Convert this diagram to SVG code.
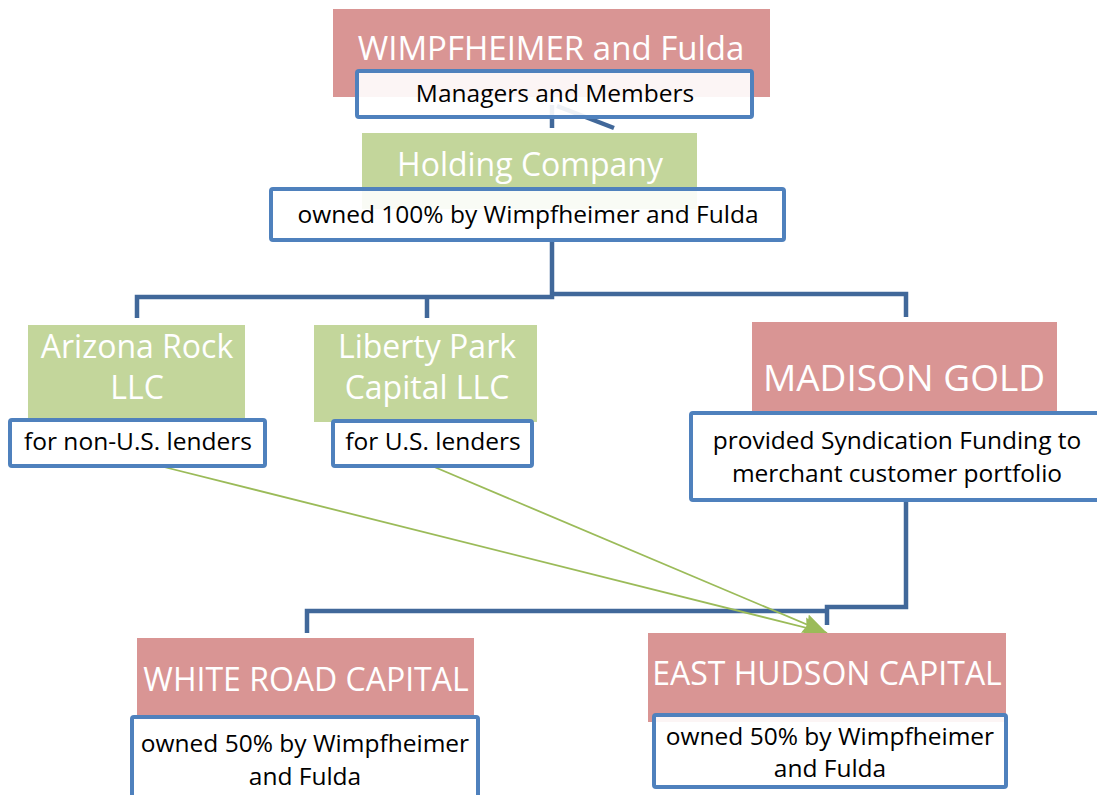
<svg xmlns="http://www.w3.org/2000/svg" width="1097" height="795" viewBox="0 0 1097 795">
<defs>
<style>
.pink{fill:#D99594}
.green{fill:#C3D69B}
.box{fill:#FFFFFF;fill-opacity:0.9;stroke:#4F81BD;stroke-width:4}
.title{font-family:"Open Sans","Liberation Sans",sans-serif;fill:#FFFFFF;text-anchor:middle}
.sub{font-family:"Open Sans","Liberation Sans",sans-serif;fill:#000000;text-anchor:middle;font-size:24.5px}
.conn{fill:none;stroke:#41689A;stroke-width:4.5}
.arrow{fill:none;stroke:#9BBB59;stroke-width:1.8}
</style>
<marker id="ah" markerUnits="userSpaceOnUse" markerWidth="26" markerHeight="22" refX="24" refY="11" orient="auto">
<path d="M0,1 L24,11 L0,21 L3,11 Z" fill="#9BBB59"/>
</marker>
</defs>
<rect width="1097" height="795" fill="#FFFFFF"/>
<g id="connectors">
<path class="conn" d="M552,105 V128"/>
<path class="conn" d="M557,106 L614,128"/>
<path class="conn" d="M552,240 V297 H137 V318"/>
<path class="conn" d="M427,318 V297"/>
<path class="conn" d="M552,294 H906 V317"/>
<path class="conn" d="M906,500 V607 H827 V625"/>
<path class="conn" d="M307,633 V611 H827"/>
<path class="arrow" d="M160,466 L827,633" marker-end="url(#ah)"/>
<path class="arrow" d="M432,466 L827,633" marker-end="url(#ah)"/>
</g>
<g id="wimpfheimer">
<rect class="pink" x="333" y="9" width="437" height="88"/>
<text class="title" x="551" y="60" font-size="33">WIMPFHEIMER and Fulda</text>
<rect class="box" x="357" y="71" width="395" height="46" rx="2"/>
<text class="sub" x="555" y="102" font-size="25">Managers and Members</text>
</g>
<g id="holding">
<rect class="green" x="362" y="133" width="335" height="76"/>
<text class="title" x="530" y="176" font-size="32">Holding Company</text>
<rect class="box" x="271" y="189" width="513" height="51" rx="2"/>
<text class="sub" x="528" y="223">owned 100% by Wimpfheimer and Fulda</text>
</g>
<g id="arizona">
<rect class="green" x="28" y="325" width="217" height="96"/>
<text class="title" x="137" y="358" font-size="32">Arizona Rock</text>
<text class="title" x="137" y="399" font-size="32">LLC</text>
<rect class="box" x="10" y="420" width="255" height="46" rx="2"/>
<text class="sub" x="138" y="450">for non-U.S. lenders</text>
</g>
<g id="liberty">
<rect class="green" x="314" y="325" width="223" height="97"/>
<text class="title" x="427" y="358" font-size="32">Liberty Park</text>
<text class="title" x="427" y="399" font-size="32">Capital LLC</text>
<rect class="box" x="333" y="421" width="199" height="45" rx="2"/>
<text class="sub" x="433" y="450">for U.S. lenders</text>
</g>
<g id="madison">
<rect class="pink" x="752" y="322" width="305" height="93"/>
<text class="title" x="904" y="391" font-size="37">MADISON GOLD</text>
<rect class="box" x="691" y="413" width="410" height="87" rx="2"/>
<text class="sub" x="897" y="449">provided Syndication Funding to</text>
<text class="sub" x="897" y="482">merchant customer portfolio</text>
</g>
<g id="whiteroad">
<rect class="pink" x="137" y="638" width="337" height="78"/>
<text class="title" x="306" y="691" font-size="32">WHITE ROAD CAPITAL</text>
<rect class="box" x="132" y="717" width="346" height="82" rx="2"/>
<text class="sub" x="305" y="752">owned 50% by Wimpfheimer</text>
<text class="sub" x="305" y="785">and Fulda</text>
</g>
<g id="easthudson">
<rect class="pink" x="648" y="633" width="358" height="89"/>
<text class="title" x="827" y="685" font-size="32">EAST HUDSON CAPITAL</text>
<rect class="box" x="654" y="715" width="352" height="72" rx="2"/>
<text class="sub" x="830" y="745">owned 50% by Wimpfheimer</text>
<text class="sub" x="830" y="777">and Fulda</text>
</g>
</svg>
